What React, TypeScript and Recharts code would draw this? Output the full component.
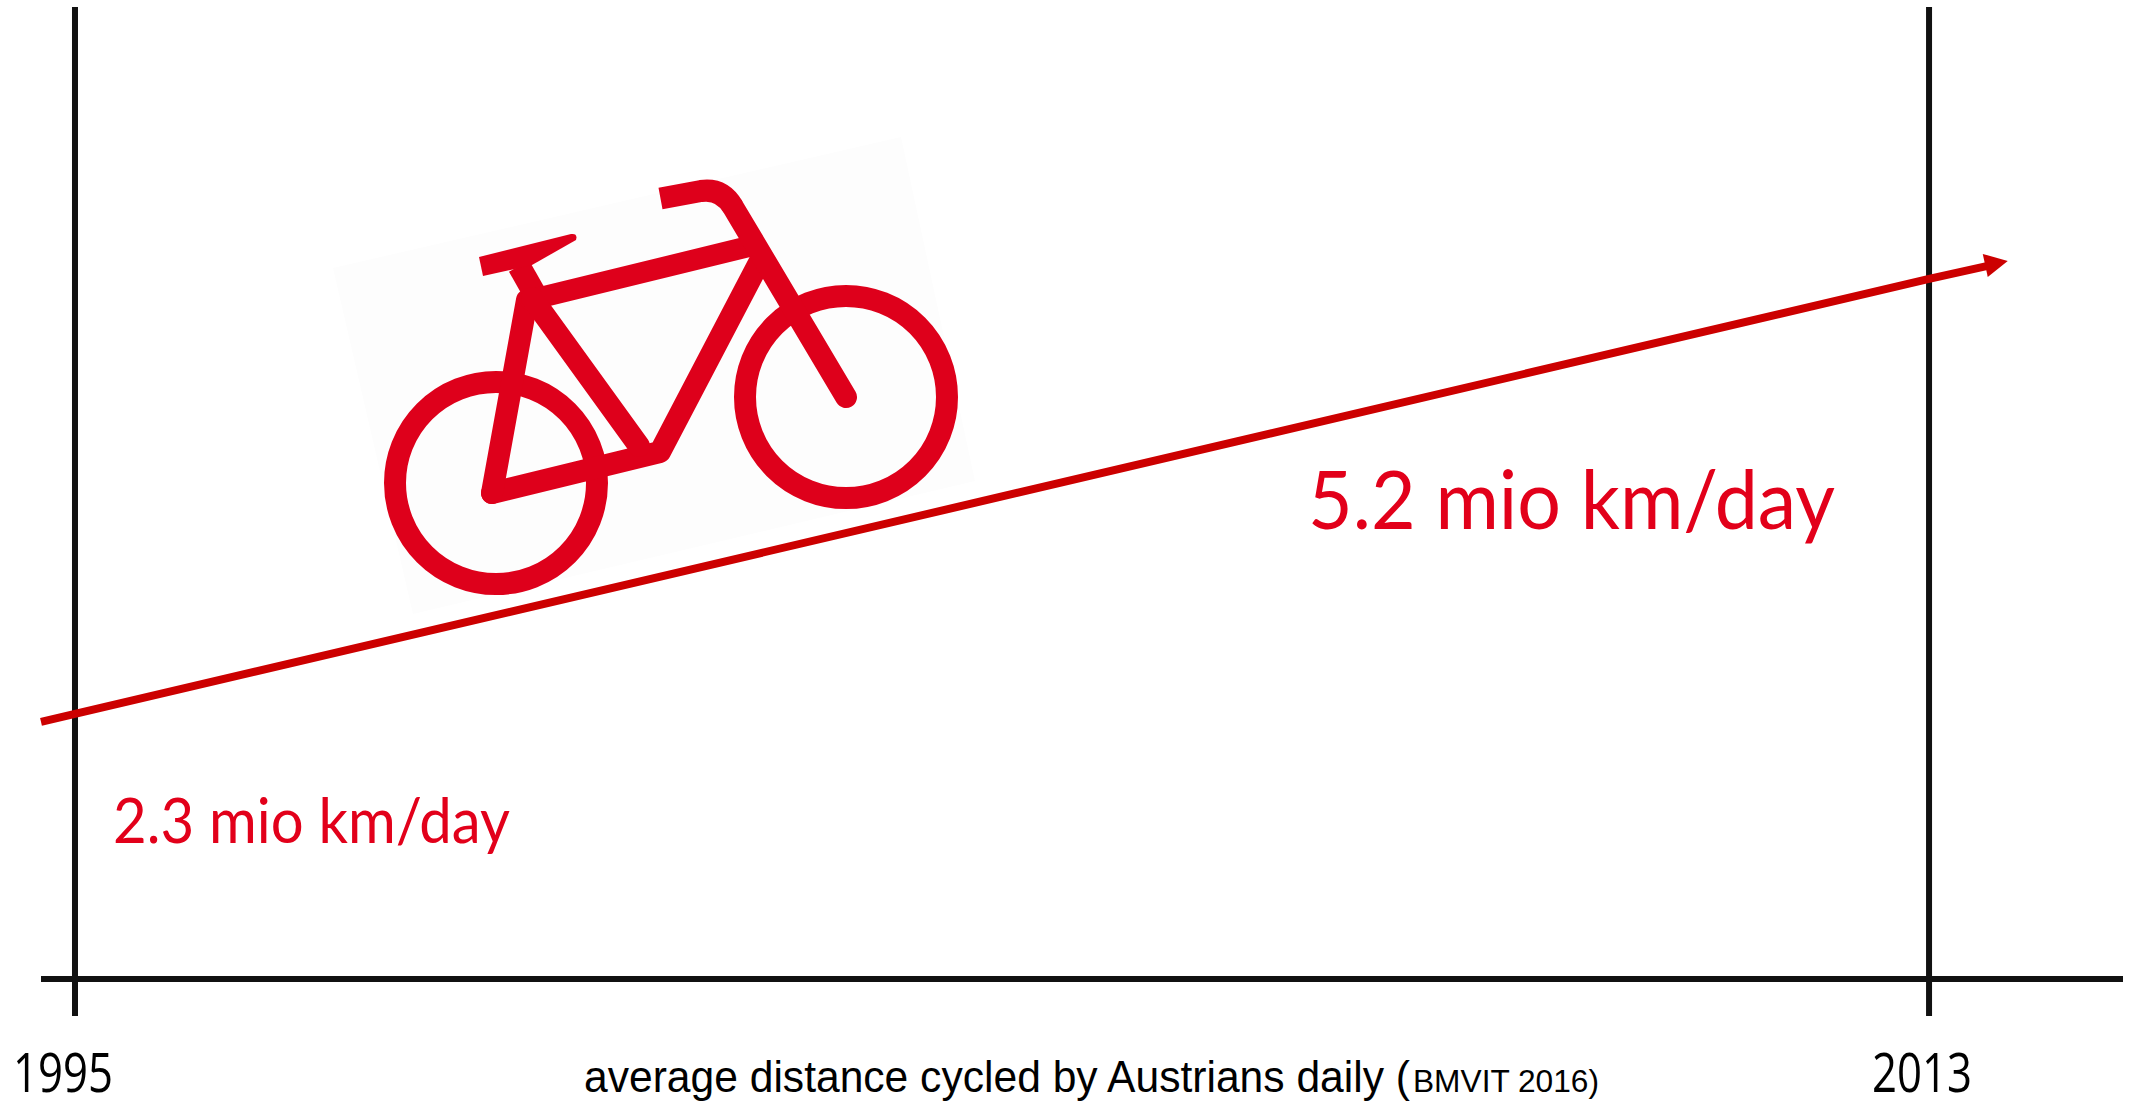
import { LineChart, Line, XAxis, YAxis, CartesianGrid } from "recharts";

// the arrow starts just left of 1995 and stops just past 2013
const years = [1994.67, 1995, 2013, 2013.57];
const distance = [2.247, 2.3, 5.2, 5.287];
const tickYears = [1995, 2013];
const startLabel = "2.3 mio km/day";
const endLabel = "5.2 mio km/day";
const captionMain = "average distance cycled by Austrians daily (";
const captionSource = "BMVIT 2016)";

const data = years.map((year, i) => ({ year, distance: distance[i] }));

const RED = "#cc0000";
const TEXT_RED = "#e2001a";
const BIKE_RED = "#de001b";
const INK = "#111111";

function YearTick({ x, payload }: any) {
  const shift = payload.value === 1995 ? -12 : -7;
  return (
    <text
      x={x + shift}
      y={1092}
      textAnchor="middle"
      fontFamily="'Open Sans'"
      fontSize={54}
      fill="#000"
      textLength={100}
      lengthAdjust="spacingAndGlyphs"
    >
      {payload.value}
    </text>
  );
}

function ArrowDot({ cx, cy, index }: any) {
  if (index !== years.length - 1) return <g key={index} />;
  return (
    <polygon
      key={index}
      points={`${cx + 20},${cy - 5} ${cx - 5},${cy - 12} ${cx},${cy + 11}`}
      fill={RED}
    />
  );
}

function Bike() {
  const tube = { fill: "none", stroke: BIKE_RED, strokeLinejoin: "round", strokeLinecap: "round" } as const;
  return (
    <g>
      <polygon points="333,268 901,137 975,481 413,614" fill="#fdfdfd" />
      <circle cx={496} cy={483} r={101} fill="none" stroke={BIKE_RED} strokeWidth={22} />
      <circle cx={846} cy={397} r={101} fill="none" stroke={BIKE_RED} strokeWidth={22} />
      <path d="M492,493 L660,452 L762,257" {...tube} strokeWidth={22} />
      <path d="M492,493 L527,300" {...tube} strokeWidth={22} />
      <path d="M519,266 L536,296" {...tube} strokeWidth={23} strokeLinecap="butt" />
      <path d="M479,257 L571,234 Q578,233 576,240 L532,265 L483,276 Z" fill={BIKE_RED} />
      <path d="M530,300 L755,245" {...tube} strokeWidth={21} />
      <path d="M532,298 L639,446" {...tube} strokeWidth={22} />
      <path d="M733,207 L846,397" {...tube} strokeWidth={22} />
      <path
        d="M660.5,198.5 L701,191 Q722,188 733,207"
        {...tube}
        strokeWidth={22}
        strokeLinecap="butt"
      />
    </g>
  );
}

export default function App() {
  return (
    <div style={{ position: "fixed", left: 0, top: 0, width: 2131, height: 1101, background: "#fff" }}>
      <LineChart
        width={2131}
        height={1101}
        data={data}
        margin={{ top: 7, right: 8, bottom: 0, left: 41 }}
      >
        <Bike />
        <CartesianGrid horizontal={false} syncWithTicks stroke={INK} strokeWidth={6} />
        <XAxis
          dataKey="year"
          type="number"
          domain={[1994.67, 2014.883]}
          ticks={tickYears}
          height={122}
          interval={0}
          axisLine={{ stroke: INK, strokeWidth: 6 }}
          tickLine={{ stroke: INK, strokeWidth: 6 }}
          tickSize={37}
          tick={<YearTick />}
        />
        <YAxis hide domain={[0.533, 7.013]} />
        <Line
          dataKey="distance"
          type="linear"
          stroke={RED}
          strokeWidth={8}
          dot={<ArrowDot />}
          activeDot={false}
          isAnimationActive={false}
        />
        <text
          x={113}
          y={843}
          fontFamily="Lato"
          fontSize={62}
          fill={TEXT_RED}
          textLength={397}
          lengthAdjust="spacingAndGlyphs"
        >
          {startLabel}
        </text>
        <text
          x={1308}
          y={529}
          fontFamily="Lato"
          fontSize={82}
          fill={TEXT_RED}
          textLength={527}
          lengthAdjust="spacingAndGlyphs"
        >
          {endLabel}
        </text>
        <text
          x={584}
          y={1092}
          fontFamily="'Liberation Sans'"
          fontSize={44}
          fill="#000"
          textLength={826}
          lengthAdjust="spacingAndGlyphs"
        >
          {captionMain}
        </text>
        <text
          x={1413}
          y={1092}
          fontFamily="'Liberation Sans'"
          fontSize={32}
          fill="#000"
          textLength={186}
          lengthAdjust="spacingAndGlyphs"
        >
          {captionSource}
        </text>
      </LineChart>
    </div>
  );
}
